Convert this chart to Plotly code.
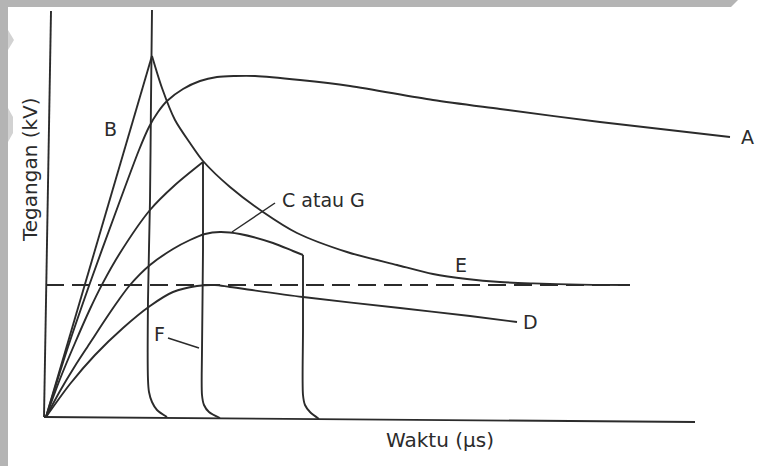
import plotly.graph_objects as go

# Voltage-time characteristics of impulse waves (time in µs, voltage in kV, arbitrary scale)

# B: steep linear front up to the flashover peak
time_b = [0, 21.2]
kv_b = [0, 90.3]

# chop of wave B (collapse from above the peak down to zero)
time_chop_b = [21.2, 21.0, 20.8, 20.4, 20.4, 20.6, 21.2, 22.2, 24.2]
kv_chop_b = [101.75, 79.25, 54.25, 29.25, 9.25, 6.25, 3.75, 1.75, 0]

# E: envelope of breakdown points, decaying towards the critical level
time_e = [21.2, 23.2, 25.8, 28.8, 31.4, 36.8, 43.4, 50.2, 60.2, 70.2, 77.4, 84.2, 90.8, 97.4, 106.8, 116.8]
kv_e = [90.25, 82.25, 74.25, 68.5, 64, 57.5, 51.25, 46, 41.25, 38, 35.75, 34.5, 33.75, 33.4, 33.1, 33.0]

# A: full impulse wave (no breakdown)
time_a = [0, 4.2, 8.8, 13.6, 18.6, 20.6, 22.4, 24.2, 27.4, 30.8, 34.2, 37.8, 41.8,
          50.8, 60.8, 77.4, 90.8, 110.8, 136.8]
kv_a = [0, 16.75, 33.5, 50, 66.75, 72.5, 76.25, 79, 82, 84, 85, 85.25, 85.25,
        84.25, 82.75, 79.25, 77, 73.75, 70]

# wave chopped on its front
time_front = [0, 2.8, 5.8, 8.8, 11.2, 14.8, 20.8, 25.8, 31.4]
kv_front = [0, 9.5, 18.5, 27, 33.1, 41, 51.75, 58, 63.75]
time_chop_front = [31.4, 31.4, 31.2, 31.2, 31.6, 32.6, 34.8]
kv_chop_front = [63.75, 41.75, 16.75, 5.5, 3, 1.25, -0.25]

# C or G: wave chopped on its tail
time_c = [0, 2.8, 5.8, 8.8, 11.8, 14.4, 16.8, 20.8, 25.4, 28.8, 31.8, 34.8, 38.8, 45.4, 49.4, 51.4]
kv_c = [0, 6.5, 12.75, 18.5, 24.25, 29, 33, 38, 42, 44.25, 45.75, 46.25, 45.75, 43.5, 41.5, 40.5]
time_chop_c = [51.4, 51.4, 51.4, 51.8, 52.8, 54.6]
kv_chop_c = [40.5, 21.75, 5.5, 3, 1.25, -0.5]

# D: wave just below the critical flashover level
time_d = [0, 4.8, 9.8, 15.4, 20.8, 25.4, 30.2, 33.8, 36.8, 51.4, 70.8, 84.8, 94.2]
kv_d = [0, 8.25, 15.5, 22.25, 27.75, 31.25, 32.75, 33, 32.5, 30, 27.25, 25.25, 23.75]

# critical flashover level (dashed)
time_crit = [0, 116.8]
kv_crit = [33.0, 33.0]

# curve labels and their positions
label_text = ["A", "B", "C atau G", "E", "D", "F"]
label_time = [140.2, 12.8, 46.8, 83.0, 96.8, 22.6]
label_kv = [70.0, 72.0, 54.25, 38.0, 23.75, 20.75]
label_anchor = ["center", "center", "left", "center", "center", "center"]

INK = "#2b2b2b"
W = 1.9

fig = go.Figure()


def curve(t, v, smooth=True, dash=None):
    fig.add_trace(go.Scatter(
        x=t, y=v, mode="lines", hoverinfo="skip", showlegend=False,
        line=dict(color=INK, width=W, dash=dash,
                  shape="spline" if smooth else "linear",
                  smoothing=0.8 if smooth else None),
    ))


curve(time_b, kv_b, smooth=False)
curve(time_chop_b, kv_chop_b)
curve(time_e, kv_e)
curve(time_a, kv_a)
curve(time_front, kv_front)
curve(time_chop_front, kv_chop_front)
curve(time_c, kv_c)
curve(time_chop_c, kv_chop_c)
curve(time_d, kv_d)
curve(time_crit, kv_crit, smooth=False, dash="18px,8px")

# hand-drawn axes
fig.add_shape(type="line", x0=-0.4, y0=0, x1=1.0, y1=101.5,
              line=dict(color=INK, width=W))
fig.add_shape(type="line", x0=-0.4, y0=0, x1=129.8, y1=-1.25,
              line=dict(color=INK, width=W))

# leader lines for labels "C atau G" and "F"
fig.add_shape(type="line", x0=37.2, y0=46.25, x1=45.8, y1=53.5,
              line=dict(color=INK, width=1.5))
fig.add_shape(type="line", x0=24.4, y0=19.75, x1=30.6, y1=17.25,
              line=dict(color=INK, width=1.5))

for txt, tx, ty, anc in zip(label_text, label_time, label_kv, label_anchor):
    fig.add_annotation(x=tx, y=ty, text=txt, showarrow=False, xanchor=anc, yanchor="middle",
                       font=dict(family="DejaVu Sans", size=19, color=INK))

fig.add_annotation(x=-3.2, y=61.75, text="Tegangan (kV)", textangle=-90, showarrow=False,
                   xanchor="center", yanchor="middle",
                   font=dict(family="DejaVu Sans", size=20, color=INK))
fig.add_annotation(x=78.8, y=-5.75, text="Waktu (μs)", showarrow=False,
                   xanchor="center", yanchor="middle",
                   font=dict(family="DejaVu Sans", size=20, color=INK))

# grey scan borders along the top and left edges
GREY = "#b4b4b4"
Wpx, Hpx = 763, 466


def px_path(points):
    return "M " + " L ".join(f"{x / Wpx:.5f},{1 - y / Hpx:.5f}" for x, y in points) + " Z"


fig.add_shape(type="path", xref="paper", yref="paper", layer="below", line_width=0,
              fillcolor=GREY, path=px_path([(0, 0), (738, 0), (731, 7), (0, 7)]))
fig.add_shape(type="path", xref="paper", yref="paper", layer="below", line_width=0,
              fillcolor=GREY, path=px_path([(0, 0), (8, 0), (8, 466), (0, 466)]))
fig.add_shape(type="path", xref="paper", yref="paper", layer="below", line_width=0,
              fillcolor="#d2d2d2", path=px_path([(8, 30), (14, 40), (8, 50)]))
fig.add_shape(type="path", xref="paper", yref="paper", layer="below", line_width=0,
              fillcolor="#d2d2d2", path=px_path([(8, 108), (13, 117), (13, 133), (8, 142)]))

fig.update_layout(
    width=763, height=466,
    margin=dict(l=0, r=0, t=0, b=0),
    paper_bgcolor="white", plot_bgcolor="white",
    xaxis=dict(range=[-9.2, 143.4], visible=False, fixedrange=True),
    yaxis=dict(range=[-12.25, 104.25], visible=False, fixedrange=True),
)

fig.write_html("out.html")
